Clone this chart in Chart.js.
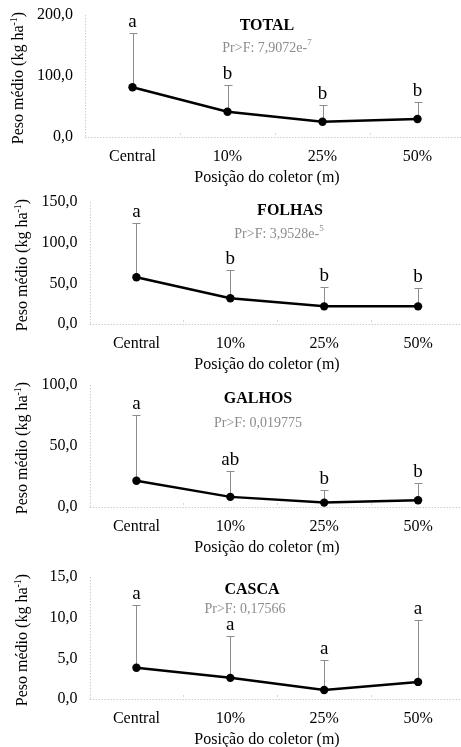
<!DOCTYPE html>
<html>
<head>
<meta charset="utf-8">
<script src="https://cdn.jsdelivr.net/npm/chart.js@4"></script>
<style>
  html, body { margin: 0; padding: 0; background: #fff; overflow: hidden; }
  .panel { position: absolute; left: 0; width: 465px; height: 186px; }
</style>
</head>
<body>
<div class="panel" style="top:0px"><canvas id="c0"></canvas></div>
<div class="panel" style="top:187px"><canvas id="c1"></canvas></div>
<div class="panel" style="top:370px"><canvas id="c2"></canvas></div>
<div class="panel" style="top:562px"><canvas id="c3"></canvas></div>
<script>
// categories (posicao do coletor)
const categories = ['Central', '10%', '25%', '50%'];

// mean weight (kg ha-1) per fraction
const totalMean  = [81.5, 41.5, 25.0, 29.5];
const folhasMean = [57.5, 31.6, 21.7, 21.7];
const galhosMean = [21.5, 8.3, 3.6, 5.5];
const cascaMean  = [3.85, 2.6, 1.1, 2.1];

// upper end of error bars
const totalErr  = [170, 85, 52.5, 58];
const folhasErr = [124, 66.6, 46, 44.4];
const galhosErr = [75.8, 29.8, 14, 20];
const cascaErr  = [11.6, 7.7, 4.8, 9.7];

// letters of mean comparison
const totalLetters  = ['a', 'b', 'b', 'b'];
const folhasLetters = ['a', 'b', 'b', 'b'];
const galhosLetters = ['a', 'ab', 'b', 'b'];
const cascaLetters  = ['a', 'a', 'a', 'a'];

// axis ranges
const yMax  = [200, 150, 100, 15];
const yStep = [100, 50, 50, 5];

const titles = ['TOTAL', 'FOLHAS', 'GALHOS', 'CASCA'];
const prText = [['Pr>F: 7,9072e-', '7'], ['Pr>F: 3,9528e-', '5'], ['Pr>F: 0,019775', ''], ['Pr>F: 0,17566', '']];

const panels = [
  {mean: totalMean,  err: totalErr,  letters: totalLetters,  left: 85,   titleX: 267, titleY: 11, prX: 267, prY: 33, yTitleX: 19},
  {mean: folhasMean, err: folhasErr, letters: folhasLetters, left: 89.5, titleX: 290, titleY: 9,  prX: 279, prY: 32, yTitleX: 23},
  {mean: galhosMean, err: galhosErr, letters: galhosLetters, left: 89.5, titleX: 258, titleY: 14, prX: 258, prY: 38, yTitleX: 23},
  {mean: cascaMean,  err: cascaErr,  letters: cascaLetters,  left: 89.5, titleX: 252, titleY: 13, prX: 245, prY: 32, yTitleX: 23}
];

const serif = '"Liberation Serif", "Times New Roman", serif';
const dotted = '#cccccc';
const TOP = 15;

function drawDotted(ctx, x1, y1, x2, y2) {
  ctx.save();
  ctx.strokeStyle = dotted;
  ctx.lineWidth = 1;
  ctx.setLineDash([1.5, 1.5]);
  ctx.beginPath();
  ctx.moveTo(x1, y1);
  ctx.lineTo(x2, y2);
  ctx.stroke();
  ctx.restore();
}

const decor = {
  id: 'decor',
  beforeDatasetsDraw(chart, args, opts) {
    const ctx = chart.ctx, a = chart.chartArea;
    const xs = chart.scales.x, ys = chart.scales.y;
    // dotted axes
    drawDotted(ctx, Math.round(a.left) + 0.5, a.top, Math.round(a.left) + 0.5, a.bottom);
    drawDotted(ctx, a.left, Math.round(a.bottom) + 0.5, a.right, Math.round(a.bottom) + 0.5);
    // small inner ticks between categories
    ctx.save();
    ctx.strokeStyle = '#d8d8d8';
    ctx.lineWidth = 1;
    for (let i = 0; i < categories.length - 1; i++) {
      const x = Math.round((xs.getPixelForValue(i) + xs.getPixelForValue(i + 1)) / 2) + 0.5;
      ctx.beginPath();
      ctx.moveTo(x, a.bottom - 4);
      ctx.lineTo(x, a.bottom - 2);
      ctx.stroke();
    }
    // error bars
    ctx.strokeStyle = '#8c8c8c';
    opts.p.err.forEach((e, i) => {
      const x = Math.round(xs.getPixelForValue(i)) + 0.5;
      const y0 = ys.getPixelForValue(opts.p.mean[i]);
      const y1 = Math.round(ys.getPixelForValue(e)) + 0.5;
      ctx.beginPath();
      ctx.moveTo(x, y0);
      ctx.lineTo(x, y1);
      ctx.moveTo(x - 4, y1);
      ctx.lineTo(x + 4, y1);
      ctx.stroke();
    });
    ctx.restore();
  },
  afterDraw(chart, args, opts) {
    const ctx = chart.ctx, a = chart.chartArea;
    const xs = chart.scales.x, ys = chart.scales.y;
    const p = opts.p;
    ctx.save();
    // letters
    ctx.fillStyle = '#000';
    ctx.font = '19px ' + serif;
    ctx.textAlign = 'center';
    ctx.textBaseline = 'alphabetic';
    p.letters.forEach((l, i) => {
      ctx.fillText(l, xs.getPixelForValue(i), ys.getPixelForValue(p.err[i]) - 6);
    });
    // panel title
    ctx.font = 'bold 16px ' + serif;
    ctx.textBaseline = 'middle';
    ctx.fillText(opts.title, p.titleX, TOP + p.titleY);
    // Pr>F
    ctx.fillStyle = '#8c8c8c';
    const main = opts.pr[0], sup = opts.pr[1];
    ctx.font = '14px ' + serif;
    const w1 = ctx.measureText(main).width;
    ctx.font = '9px ' + serif;
    const w2 = sup ? ctx.measureText(sup).width : 0;
    const x = p.prX - (w1 + w2) / 2;
    ctx.textAlign = 'left';
    ctx.font = '14px ' + serif;
    ctx.fillText(main, x, TOP + p.prY);
    if (sup) {
      ctx.font = '9px ' + serif;
      ctx.fillText(sup, x + w1, TOP + p.prY - 5);
    }
    // x axis title
    ctx.fillStyle = '#000';
    ctx.textAlign = 'center';
    ctx.font = '16px ' + serif;
    ctx.fillText('Posição do coletor (m)', 267, a.bottom + 41);
    // y axis title, rotated, with superscript -1
    ctx.translate(p.yTitleX, (a.top + a.bottom) / 2 + 2);
    ctx.rotate(-Math.PI / 2);
    const t1 = 'Peso médio (kg ha', t2 = '-1', t3 = ')';
    ctx.font = '16px ' + serif;
    const a1 = ctx.measureText(t1).width, a3 = ctx.measureText(t3).width;
    ctx.font = '10px ' + serif;
    const a2 = ctx.measureText(t2).width;
    const sx = -(a1 + a2 + a3) / 2;
    ctx.textAlign = 'left';
    ctx.font = '16px ' + serif;
    ctx.fillText(t1, sx, 0);
    ctx.font = '10px ' + serif;
    ctx.fillText(t2, sx + a1, -5);
    ctx.font = '16px ' + serif;
    ctx.fillText(t3, sx + a1 + a2, 0);
    ctx.restore();
  }
};

panels.forEach((p, k) => {
  const chart = new Chart(document.getElementById('c' + k), {
    type: 'line',
    data: {
      labels: categories,
      datasets: [{
        data: p.mean,
        borderColor: '#000',
        backgroundColor: '#000',
        borderWidth: 2.5,
        pointRadius: 4.2,
        pointBackgroundColor: '#000',
        pointBorderWidth: 0,
        tension: 0,
        clip: false
      }]
    },
    options: {
      responsive: true,
      maintainAspectRatio: false,
      animation: false,
      layout: { autoPadding: false, padding: { top: TOP, right: 0, left: 0, bottom: 0 } },
      plugins: {
        legend: { display: false },
        tooltip: { enabled: false },
        decor: { p: p, title: titles[k], pr: prText[k] }
      },
      scales: {
        x: {
          offset: true,
          border: { display: false },
          grid: { display: false, drawTicks: false },
          ticks: { color: '#000', font: { family: serif, size: 16 }, padding: 10, maxRotation: 0 },
          afterFit: s => { s.height = 49; s.paddingLeft = 0; s.paddingRight = 0; }
        },
        y: {
          min: 0,
          max: yMax[k],
          border: { display: false },
          grid: { display: false, drawTicks: false },
          ticks: {
            stepSize: yStep[k],
            color: '#000',
            font: { family: serif, size: 16 },
            padding: 12,
            callback: v => v.toFixed(1).replace('.', ',')
          },
          afterFit: s => { s.width = p.left; s.paddingTop = 0; s.paddingBottom = 0; }
        }
      }
    },
    plugins: [decor]
  });
  // keep the plot top at TOP whatever room the layout reserved
  const dt = chart.chartArea.top - TOP;
  if (Math.abs(dt) > 0.1) {
    chart.options.layout.padding.top = Math.max(0, TOP - dt);
    chart.update();
  }
});
</script>
</body>
</html>
